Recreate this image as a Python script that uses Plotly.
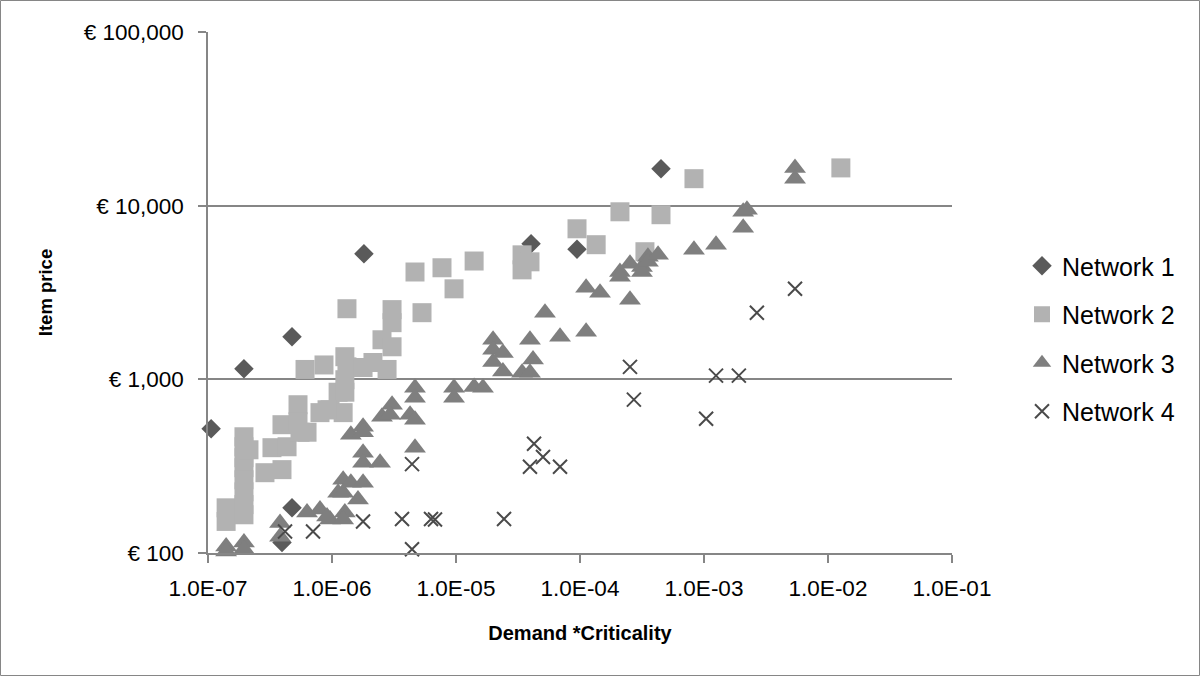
import plotly.graph_objects as go

# ---------------- data ----------------
n1_x = [1.06e-7, 1.95e-7, 4.76e-7, 4.76e-7, 3.95e-7, 1.81e-6, 4.03e-5, 9.46e-5, 4.50e-4]
n1_y = [520, 1150, 1760, 182, 115, 5280, 6040, 5620, 16300]

n2_x = [1.40e-7, 1.40e-7, 1.95e-7, 1.95e-7, 1.95e-7, 1.95e-7, 1.95e-7, 1.95e-7, 1.95e-7, 1.95e-7,
        2.14e-7, 2.88e-7, 3.28e-7, 3.95e-7, 3.95e-7, 4.34e-7, 5.32e-7, 5.32e-7, 5.52e-7, 6.29e-7,
        6.06e-7, 8.62e-7, 8.0e-7, 9.64e-7, 1.12e-6, 1.27e-6, 1.32e-6, 1.27e-6, 1.27e-6, 1.23e-6,
        9.12e-7, 1.78e-6, 2.14e-6, 2.53e-6, 3.05e-6, 3.05e-6, 3.05e-6, 2.78e-6, 1.32e-6, 5.32e-6,
        4.67e-6, 7.71e-6, 9.64e-6, 1.40e-5, 3.41e-5, 3.95e-5, 3.41e-5, 9.46e-5, 1.35e-4, 2.10e-4,
        4.50e-4, 8.30e-4, 3.34e-4, 1.27e-2]
n2_y = [182, 152, 467, 409, 354, 310, 264, 225, 190, 166,
        393, 290, 404, 302, 548, 409, 714, 570, 496, 496,
        1140, 1210, 643, 668, 843, 1350, 1180, 995, 843, 643,
        668, 1170, 1250, 1690, 2520, 2120, 1540, 1140, 2550, 2420,
        4150, 4390, 3320, 4800, 5210, 4750, 4270, 7360, 5960, 9220,
        8870, 14300, 5430, 16500]

n3_x = [1.40e-7, 1.40e-7, 1.95e-7, 1.95e-7, 3.81e-7, 3.81e-7, 6.29e-7, 8.0e-7, 9.64e-7, 1.12e-6,
        9.12e-7, 1.23e-6, 1.23e-6, 1.27e-6, 1.23e-6, 1.42e-6, 1.62e-6, 1.78e-6, 1.42e-6, 1.78e-6,
        1.78e-6, 1.78e-6, 1.78e-6, 2.44e-6, 2.53e-6, 3.05e-6, 2.94e-6, 4.26e-6, 4.67e-6, 4.67e-6,
        4.67e-6, 4.67e-6, 9.64e-6, 9.64e-6, 1.40e-5, 1.65e-5, 1.99e-5, 1.99e-5, 1.99e-5, 2.39e-5,
        2.39e-5, 3.41e-5, 3.95e-5, 4.18e-5, 3.95e-5, 5.22e-5, 6.9e-5, 1.12e-4, 1.45e-4, 1.12e-4,
        2.10e-4, 2.10e-4, 2.53e-4, 2.53e-4, 3.16e-4, 3.16e-4, 3.53e-4, 3.53e-4, 4.26e-4, 8.30e-4,
        1.25e-3, 2.07e-3, 2.22e-3, 2.07e-3, 5.42e-3, 5.42e-3]
n3_y = [109, 102, 115, 105, 149, 124, 171, 178, 156, 222,
        162, 264, 222, 171, 156, 254, 203, 254, 480, 533,
        496, 378, 331, 331, 609, 714, 625, 625, 585, 895,
        784, 404, 895, 784, 903, 895, 1690, 1480, 1260, 1420,
        1110, 1090, 1690, 1300, 1090, 2420, 1760, 3370, 3150, 1880,
        4150, 3900, 4630, 2870, 4430, 4150, 5080, 4750, 5210, 5570,
        5960, 9220, 9470, 7460, 16500, 14300]

n4_x = [4.18e-7, 7.03e-7, 1.78e-6, 3.67e-6, 6.29e-6, 6.77e-6, 4.42e-6, 4.42e-6, 2.44e-5, 4.26e-5,
        5.03e-5, 3.95e-5, 6.9e-5, 2.72e-4, 2.53e-4, 1.04e-3, 1.25e-3, 1.91e-3, 2.67e-3, 5.42e-3]
n4_y = [133, 133, 152, 157, 157, 156, 325, 105, 157, 426,
        357, 314, 314, 764, 1180, 593, 1050, 1050, 2420, 3320]

x_tickvals = [1e-7, 1e-6, 1e-5, 1e-4, 1e-3, 1e-2, 1e-1]
x_ticktext = ["1.0E-07", "1.0E-06", "1.0E-05", "1.0E-04", "1.0E-03", "1.0E-02", "1.0E-01"]
y_tickvals = [100, 1000, 10000, 100000]
y_ticktext = ["€ 100", "€ 1,000", "€ 10,000", "€ 100,000"]

# ---------------- figure ----------------
W, H = 1200, 676
ML, MR, MT, MB = 208, 248, 32, 123
PW, PH = W - ML - MR, H - MT - MB
FONT = "Liberation Sans"
GRID = "#868686"

fig = go.Figure()
fig.add_trace(go.Scatter(x=n1_x, y=n1_y, mode="markers", name="Network 1", legendgroup="1",
                         marker=dict(symbol="diamond", size=15, color="#5a5a5a", line=dict(width=0)),
                         cliponaxis=False))
fig.add_trace(go.Scatter(x=n2_x, y=n2_y, mode="markers", name="Network 2", legendgroup="2",
                         marker=dict(symbol="square", size=19, color="#b2b2b2", line=dict(width=0)),
                         cliponaxis=False))
fig.add_trace(go.Scatter(x=n3_x, y=n3_y, mode="markers", name="Network 3", legendgroup="3",
                         marker=dict(symbol="triangle-up", size=19, color="#7f7f7f", line=dict(width=0)),
                         cliponaxis=False))
fig.add_trace(go.Scatter(x=n4_x, y=n4_y, mode="markers", name="Network 4", legendgroup="4",
                         marker=dict(symbol="x-thin-open", size=14, color="#4a4a4a",
                                     line=dict(width=2, color="#4a4a4a")),
                         cliponaxis=False))

fig.update_layout(
    width=W, height=H,
    margin=dict(l=ML, r=MR, t=MT, b=MB),
    paper_bgcolor="white", plot_bgcolor="white",
    font=dict(family=FONT, size=22, color="#000000"),
    showlegend=True,
    legend=dict(x=(1022 - ML) / PW, xanchor="left", y=(553 - 243) / PH, yanchor="top",
                font=dict(family=FONT, size=25, color="#000000"),
                tracegroupgap=13, bgcolor="rgba(0,0,0,0)", itemwidth=30),
    xaxis=dict(type="log", range=[-7, -1], tickmode="array", tickvals=x_tickvals, ticktext=x_ticktext,
               showgrid=False, zeroline=False, showline=True, linecolor=GRID, linewidth=1.5,
               ticks="outside", ticklen=8, tickwidth=1.5, tickcolor=GRID,
               tickfont=dict(family=FONT, size=22.5), ticklabelstandoff=6,
               title=dict(text="<b>Demand *Criticality</b>", font=dict(family=FONT, size=20), standoff=26)),
    yaxis=dict(type="log", range=[2, 5], tickmode="array", tickvals=y_tickvals, ticktext=y_ticktext,
               showgrid=True, gridcolor=GRID, gridwidth=1.5, zeroline=False,
               showline=True, linecolor=GRID, linewidth=1.5,
               ticks="outside", ticklen=8, tickwidth=1.5, tickcolor=GRID,
               tickfont=dict(family=FONT, size=22.5), ticklabelstandoff=10,
               title=dict(text="<b>Item price</b>", font=dict(family=FONT, size=18.5), standoff=26)),
)

# outer chart border
fig.add_shape(type="rect", xref="paper", yref="paper",
              x0=(0.5 - ML) / PW, x1=(W - 0.5 - ML) / PW,
              y0=-(MB - 0.5) / PH, y1=(H - MB - 0.5) / PH,
              line=dict(color=GRID, width=1), fillcolor="rgba(0,0,0,0)", layer="below")

fig.write_html("out.html", config={"displayModeBar": False},
               post_script="document.body.style.margin='0';document.body.style.overflow='hidden';")
